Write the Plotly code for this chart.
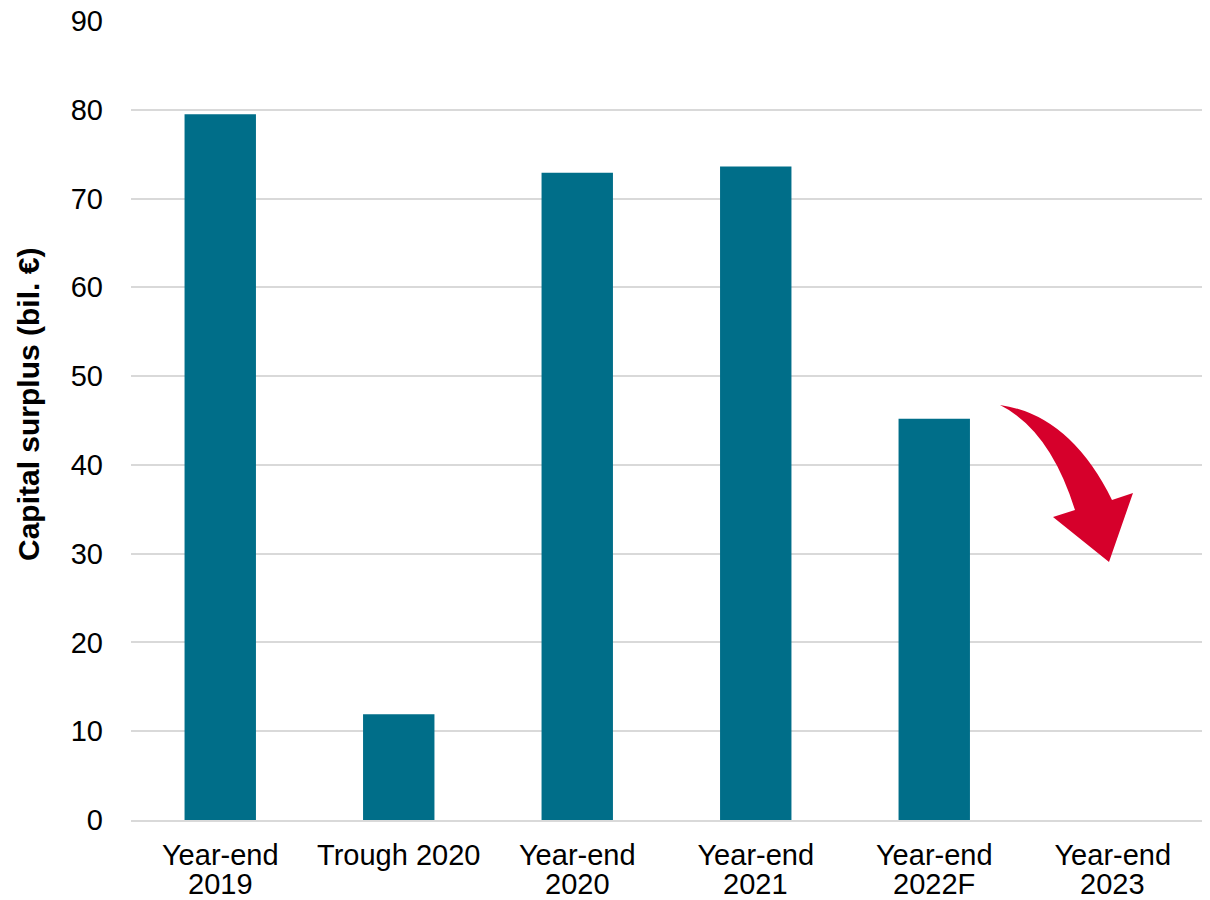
import plotly.graph_objects as go

categories = ["Year-end 2019", "Trough 2020", "Year-end 2020", "Year-end 2021", "Year-end 2022F", "Year-end 2023"]
label_line1 = ["Year-end", "Trough 2020", "Year-end", "Year-end", "Year-end", "Year-end"]
label_line2 = ["2019", "", "2020", "2021", "2022F", "2023"]
values = [79.5, 11.9, 72.9, 73.6, 45.2, None]
y_ticks = [0, 10, 20, 30, 40, 50, 60, 70, 80, 90]
y_title = "Capital surplus (bil. €)"

W, H = 1210, 900
ML, MR, MT, MB = 131, 8, 21, 80
PW, PH = W - ML - MR, H - MT - MB

BAR = "#006E89"
RED = "#D6002B"
FONT = "Liberation Sans, Arial, sans-serif"
FS = 29

fig = go.Figure(go.Bar(x=categories, y=values, marker=dict(color=BAR, line=dict(width=0)), width=0.4))

# curved arrow (decoration) given in pixel coordinates, converted to paper coordinates
arrow_px = [
    ("M", 1000, 405),
    ("Q", 1070, 415, 1112, 500),
    ("L", 1133, 493),
    ("L", 1109, 562),
    ("L", 1053, 517),
    ("L", 1075, 510),
    ("Q", 1050, 430, 1000, 405),
]

def px2paper(x, y):
    return (x - ML) / PW, (H - MB - y) / PH

parts = []
for seg in arrow_px:
    cmd = seg[0]
    coords = seg[1:]
    pts = []
    for i in range(0, len(coords), 2):
        px_, py_ = px2paper(coords[i], coords[i + 1])
        pts.append(f"{px_:.5f},{py_:.5f}")
    parts.append(cmd + " " + " ".join(pts))
path = " ".join(parts) + " Z"

fig.add_shape(type="path", path=path, xref="paper", yref="paper",
              fillcolor=RED, line=dict(width=0), layer="above")

# second line of the category labels
for cat, txt in zip(categories, label_line2):
    if txt:
        fig.add_annotation(x=cat, xref="x", y=0, yref="paper", text=txt,
                           showarrow=False, yanchor="middle", xanchor="center",
                           yshift=-64, font=dict(size=FS, color="black"))

# y-axis title
tx, ty = px2paper(28, 405)
fig.add_annotation(x=tx, xref="paper", y=ty, yref="paper", text=f"<b>{y_title}</b>",
                   textangle=-90, showarrow=False, xanchor="center", yanchor="middle",
                   font=dict(size=30, color="black"))

fig.update_layout(
    width=W, height=H,
    margin=dict(l=ML, r=MR, t=MT, b=MB, pad=0),
    plot_bgcolor="white", paper_bgcolor="white",
    font=dict(family=FONT, size=FS, color="black"),
    showlegend=False,
    xaxis=dict(
        type="category",
        categoryarray=categories,
        tickvals=categories, ticktext=label_line1,
        showgrid=False, automargin=False,
        showline=True, linecolor="#D9D9D9", linewidth=2,
        ticks="", tickfont=dict(size=FS),
        ticklabelstandoff=8,
    ),
    yaxis=dict(
        range=[0, 90],
        tickvals=y_ticks,
        showgrid=True, gridcolor="#D9D9D9", gridwidth=2,
        zeroline=False, showline=False, ticks="",
        tickfont=dict(size=FS),
        ticklabelstandoff=27,
        automargin=False,
    ),
)

fig.write_html("out.html")
